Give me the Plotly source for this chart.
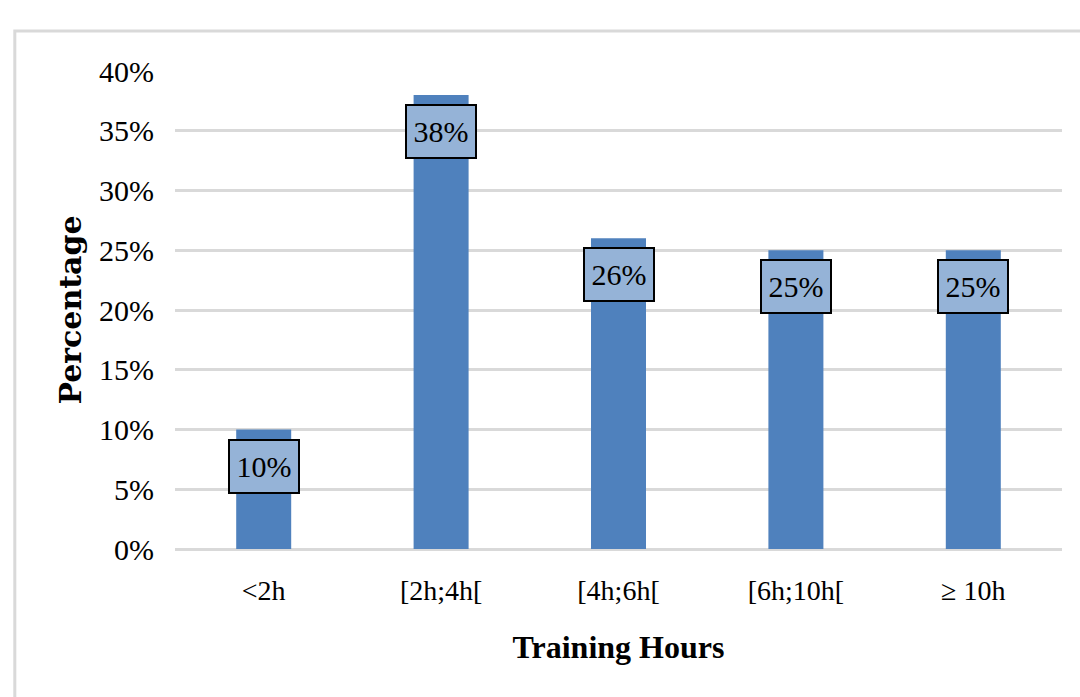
import plotly.graph_objects as go

# Share of respondents by weekly training hours
categories = ["<2h", "[2h;4h[", "[4h;6h[", "[6h;10h[", "\u2265 10h"]
percentages = [10, 38, 26, 25, 25]
y_ticks = [0, 5, 10, 15, 20, 25, 30, 35, 40]
y_tick_labels = [f"{v}%" for v in y_ticks]

BAR_COLOR = "#4F81BD"
LABEL_FILL = "#95B3D7"
GRID_COLOR = "#D9D9D9"
SERIF = "Liberation Serif, Times New Roman, serif"

fig = go.Figure(
    go.Bar(
        x=categories,
        y=percentages,
        marker=dict(color=BAR_COLOR, line=dict(width=0)),
        hoverinfo="skip",
    )
)

# Boxed value labels sitting just inside the top of each bar
for cat, val in zip(categories, percentages):
    fig.add_annotation(
        x=cat,
        y=val,
        xref="x",
        yref="y",
        text=f"{val}%",
        showarrow=False,
        yanchor="top",
        yshift=-9,
        font=dict(family=SERIF, size=30, color="#000000"),
        bgcolor=LABEL_FILL,
        bordercolor="#000000",
        borderwidth=2,
        borderpad=2,
        width=64,
        height=47,
    )

# Light frame around the chart area
fig.add_shape(
    type="path",
    xref="paper",
    yref="paper",
    path="M -0.1806,-0.5 L -0.1806,1.0837 L 1.2,1.0837",
    line=dict(color=GRID_COLOR, width=3),
    layer="below",
)

fig.update_layout(
    width=1080,
    height=697,
    margin=dict(l=175, r=18, t=71, b=148),
    paper_bgcolor="#FFFFFF",
    plot_bgcolor="#FFFFFF",
    bargap=0.69,
    showlegend=False,
    font=dict(family=SERIF, color="#000000"),
)

fig.update_xaxes(
    tickfont=dict(family=SERIF, size=28, color="#000000"),
    ticks="",
    showline=False,
    showgrid=False,
    ticklabelstandoff=22,
    title=dict(
        text="<b>Training Hours</b>",
        font=dict(family=SERIF, size=32, color="#000000"),
        standoff=30,
    ),
)

fig.update_yaxes(
    range=[0, 40],
    tickvals=y_ticks,
    ticktext=y_tick_labels,
    tickfont=dict(family=SERIF, size=30, color="#000000"),
    ticks="",
    showline=False,
    showgrid=True,
    gridcolor=GRID_COLOR,
    gridwidth=2.5,
    zeroline=True,
    zerolinecolor=GRID_COLOR,
    zerolinewidth=2.5,
    ticklabelstandoff=20,
    title=dict(
        text="<b>Percentage</b>",
        font=dict(family="DejaVu Serif, serif", size=30, color="#000000"),
        standoff=8,
    ),
)

fig.write_html("out.html")
